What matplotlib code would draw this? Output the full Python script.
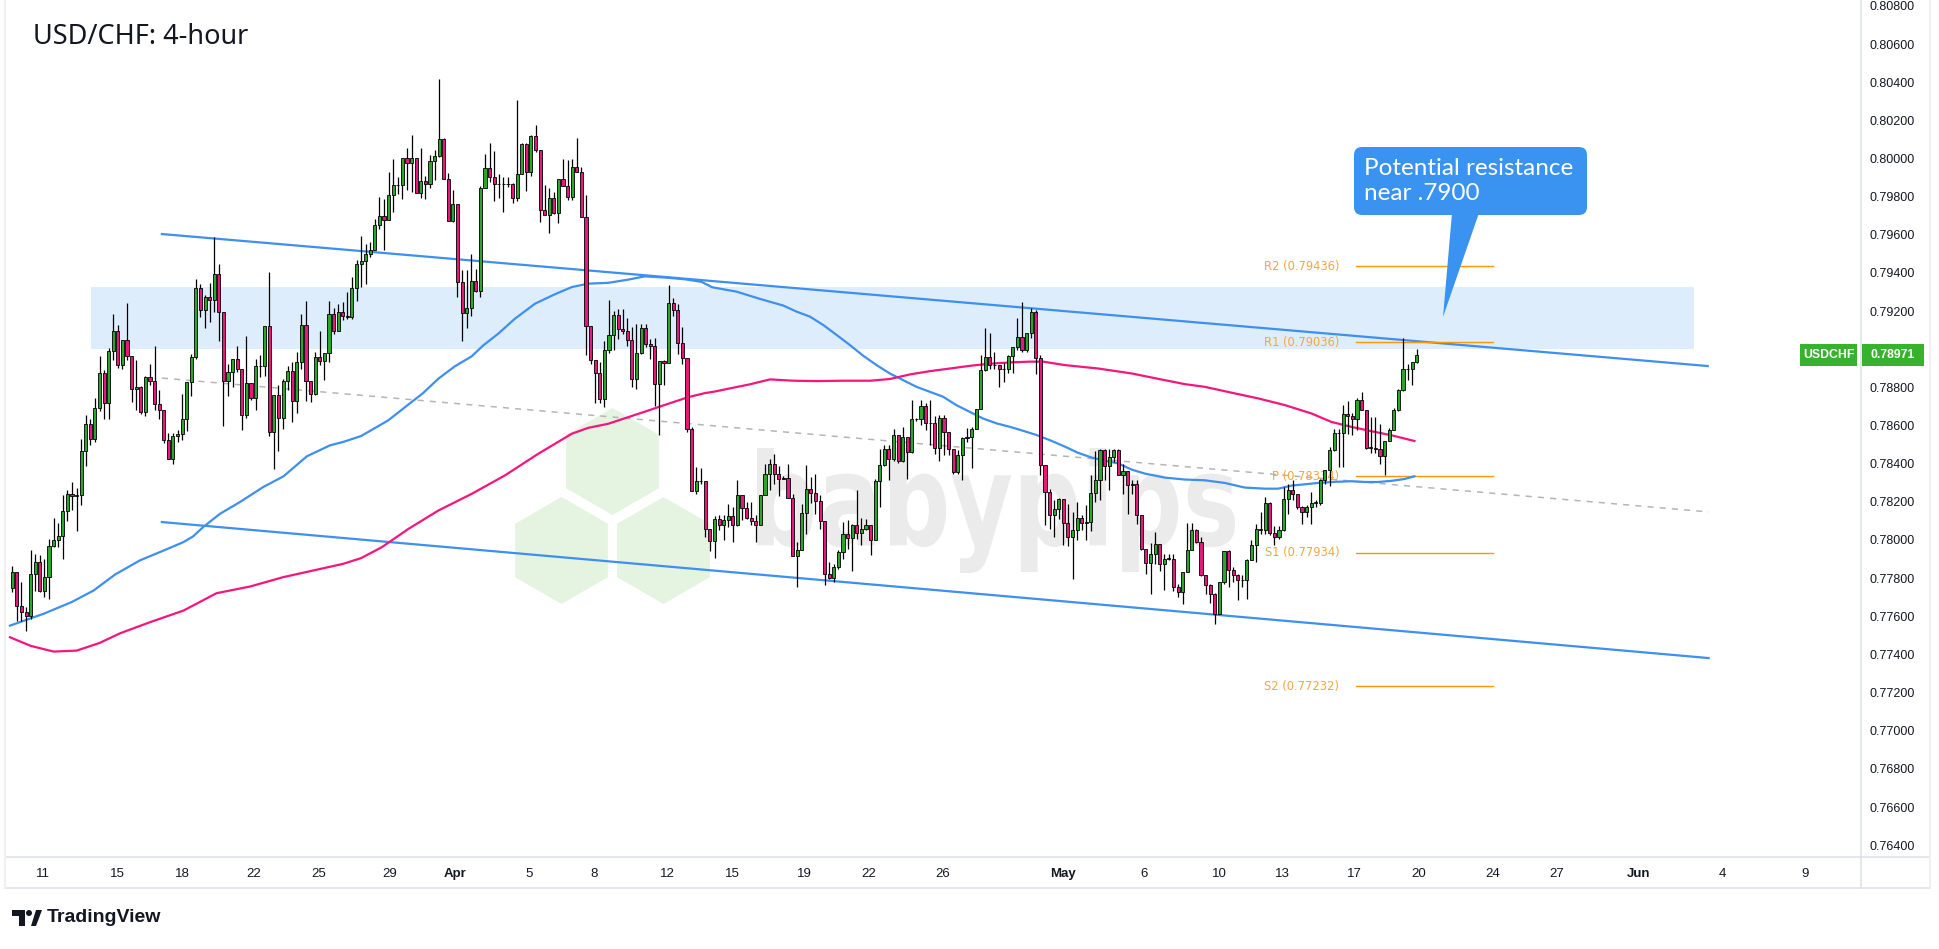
import matplotlib
matplotlib.use("Agg")
import matplotlib.pyplot as plt
import numpy as np
from matplotlib.patches import Rectangle, Polygon, FancyBboxPatch, PathPatch
from matplotlib.textpath import TextPath
from matplotlib.font_manager import FontProperties
from matplotlib.transforms import Affine2D

W, H = 1940, 949

# ---- data (prices in 1e-5 units, one entry per 4h bar) ----
first_open = 77747
closes = [
    77831, 77656, 77621, 77600, 77822, 77887, 77735, 77805, 77966, 78001,
    78022, 78151, 78242, 78228, 78234, 78466, 78610, 78528, 78694, 78876,
    78718, 78991, 79095, 78916, 79051, 78963, 78794, 78802, 78671, 78855,
    78834, 78715, 78680, 78522, 78426, 78543, 78554, 78636, 78829, 78960,
    79322, 79205, 79275, 79257, 79394, 79196, 78834, 78881, 78951, 78899,
    78654, 78823, 78746, 78911, 78911, 79121, 78566, 78762, 78641, 78834,
    78886, 78729, 78934, 79126, 78834, 78767, 78960, 78939, 78981, 79184,
    79096, 79196, 79173, 79170, 79319, 79446, 79462, 79501, 79522, 79650,
    79697, 79680, 79811, 79860, 79860, 80005, 79977, 80005, 79820, 79883,
    79865, 79986, 80012, 80100, 79890, 79673, 79759, 79353, 79190, 79218,
    79358, 79305, 79843, 79951, 79904, 79865, 79865, 79865, 79865, 79794,
    79921, 80075, 79930, 80117, 80044, 79732, 79706, 79795, 79715, 79890,
    79857, 79799, 79956, 79927, 79694, 79120, 78945, 78875, 78740, 78997,
    79073, 79178, 79108, 79095, 79046, 78845, 78980, 79113, 79029, 79015,
    78819, 78938, 78927, 79244, 79204, 79032, 78955, 78583, 78255, 78308,
    78308, 78058, 77993, 78110, 78080, 78103, 78124, 78080, 78238, 78168,
    78117, 78100, 78080, 78238, 78348, 78401, 78348, 78322, 78325, 78222,
    77916, 77946, 78143, 78266, 78248, 78203, 78098, 77823, 77800, 77858,
    77937, 78033, 78012, 78080, 78038, 78059, 78077, 78002, 78308, 78392,
    78476, 78423, 78549, 78413, 78541, 78462, 78633, 78633, 78702, 78611,
    78614, 78483, 78642, 78567, 78476, 78357, 78448, 78535, 78541, 78584,
    78686, 78891, 78961, 78917, 78917, 78896, 78899, 78966, 79013, 79066,
    78996, 79083, 79197, 78952, 78392, 78252, 78133, 78161, 78217, 78091,
    78016, 78054, 78117, 78091, 78094, 78246, 78316, 78470, 78386, 78435,
    78470, 78343, 78362, 78290, 78295, 78129, 77954, 77879, 77928, 77977,
    77872, 77902, 77902, 77753, 77727, 77832, 77949, 78050, 77989, 77814,
    77762, 77718, 77613, 77779, 77942, 77844, 77819, 77788, 77788, 77896,
    77972, 78059, 78054, 78194, 78036, 78015, 78054, 78217, 78264, 78243,
    78173, 78147, 78173, 78196, 78196, 78316, 78369, 78470, 78561, 78561,
    78663, 78651, 78633, 78736, 78680, 78484, 78483, 78479, 78439, 78519,
    78579, 78684, 78785, 78894, 78894, 78931, 78969,
]
highs = [
    77863, 77831, 77779, 77647, 77948, 77924, 77919, 77901, 78006, 78116,
    78088, 78234, 78263, 78304, 78274, 78531, 78654, 78636, 78746, 78963,
    78893, 79009, 79184, 79126, 79051, 79240, 78963, 78946, 78806, 78859,
    78925, 79016, 78785, 78680, 78561, 78561, 78575, 78767, 78829, 78977,
    79368, 79340, 79287, 79345, 79586, 79445, 79196, 78925, 78951, 79016,
    78899, 79068, 78823, 78951, 78969, 79121, 79406, 78762, 78811, 78846,
    78911, 78934, 78986, 79184, 79254, 78834, 78986, 79096, 78981, 79254,
    79214, 79236, 79249, 79301, 79380, 79467, 79595, 79554, 79563, 79685,
    79799, 79790, 79930, 80000, 79904, 80005, 80053, 80123, 80005, 80053,
    79907, 80018, 80044, 80415, 80105, 79925, 79837, 79764, 79414, 79417,
    79498, 79423, 79855, 80023, 80079, 80039, 79921, 79904, 79904, 79869,
    80306, 80082, 80082, 80123, 80175, 80044, 79860, 79843, 79825, 79890,
    80000, 79991, 80000, 80105, 79956, 79808, 79120, 78945, 78933, 79043,
    79256, 79200, 79213, 79213, 79165, 79116, 79134, 79134, 79130, 79055,
    79060, 78938, 78945, 79335, 79269, 79239, 79116, 78955, 78591, 78381,
    78378, 78311, 78058, 78128, 78133, 78129, 78191, 78173, 78313, 78238,
    78199, 78199, 78129, 78238, 78401, 78427, 78453, 78388, 78336, 78401,
    78243, 77989, 78191, 78392, 78331, 78348, 78234, 78098, 77884, 77876,
    77946, 78094, 78103, 78086, 78261, 78115, 78112, 78080, 78322, 78476,
    78497, 78500, 78584, 78549, 78593, 78541, 78733, 78640, 78733, 78716,
    78733, 78649, 78655, 78654, 78567, 78479, 78471, 78541, 78588, 78593,
    78689, 78969, 79109, 79083, 78987, 78920, 78926, 78969, 79013, 79162,
    79249, 79083, 79218, 79206, 78969, 78392, 78266, 78208, 78222, 78217,
    78191, 78147, 78199, 78129, 78182, 78339, 78467, 78479, 78479, 78479,
    78479, 78479, 78400, 78362, 78316, 78316, 78129, 77954, 77984, 78042,
    77977, 77928, 77928, 77928, 77770, 77832, 78089, 78089, 78059, 78015,
    77814, 77767, 77721, 77779, 77942, 77949, 77858, 77823, 77814, 77902,
    77998, 78085, 78147, 78225, 78199, 78071, 78071, 78278, 78295, 78313,
    78243, 78178, 78185, 78252, 78208, 78322, 78369, 78488, 78584, 78584,
    78707, 78729, 78666, 78745, 78777, 78684, 78645, 78645, 78610, 78519,
    78589, 78694, 78794, 79057, 78925, 78934, 78999,
]
lows = [
    77726, 77577, 77577, 77525, 77586, 77735, 77726, 77700, 77691, 77962,
    77962, 77901, 78102, 78155, 78046, 78181, 78386, 78496, 78514, 78676,
    78636, 78636, 78942, 78904, 78899, 78946, 78724, 78680, 78662, 78648,
    78811, 78680, 78636, 78508, 78426, 78396, 78514, 78522, 78571, 78753,
    78951, 79170, 79109, 79144, 79196, 79042, 78596, 78753, 78802, 78881,
    78575, 78641, 78736, 78680, 78855, 78859, 78543, 78374, 78466, 78584,
    78788, 78619, 78666, 78899, 78729, 78724, 78759, 78916, 78841, 78934,
    79082, 79096, 79152, 79161, 79161, 79254, 79327, 79344, 79484, 79519,
    79633, 79519, 79676, 79720, 79816, 79790, 79834, 79825, 79820, 79794,
    79790, 79843, 79886, 80009, 79890, 79673, 79668, 79274, 79043, 79113,
    79172, 79300, 79274, 79843, 79878, 79778, 79794, 79720, 79851, 79767,
    79776, 79921, 79830, 79907, 80035, 79668, 79706, 79610, 79711, 79662,
    79857, 79781, 79781, 79927, 79694, 78968, 78924, 78717, 78717, 78696,
    78980, 78994, 79055, 79081, 79015, 78801, 78793, 78976, 79011, 78950,
    78705, 78548, 78810, 78927, 79172, 78976, 78924, 78565, 78255, 78241,
    78294, 78014, 77944, 77905, 78051, 77998, 78068, 77989, 78073, 78103,
    78112, 78080, 77989, 78077, 78238, 78261, 78296, 78231, 78318, 78222,
    77916, 77753, 77946, 78033, 78196, 78138, 78059, 77762, 77797, 77779,
    77849, 77902, 77951, 77835, 78007, 77972, 78051, 77923, 77998, 78173,
    78388, 78313, 78413, 78406, 78410, 78322, 78458, 78623, 78602, 78576,
    78497, 78453, 78413, 78444, 78444, 78348, 78348, 78313, 78514, 78378,
    78581, 78686, 78885, 78896, 78896, 78803, 78829, 78878, 78878, 78996,
    78987, 78987, 79057, 78868, 78339, 78077, 78059, 78016, 78112, 77975,
    77968, 77793, 78001, 78050, 77998, 78047, 78199, 78208, 78313, 78264,
    78409, 78339, 78243, 78134, 78239, 78085, 77945, 77823, 77718, 77875,
    77840, 77739, 77893, 77732, 77700, 77662, 77832, 77945, 77984, 77809,
    77718, 77669, 77560, 77613, 77767, 77753, 77779, 77686, 77756, 77692,
    77893, 77884, 78033, 78029, 78024, 77972, 78007, 78047, 78138, 78208,
    78164, 78082, 78120, 78082, 78173, 78182, 78295, 78281, 78467, 78383,
    78383, 78558, 78549, 78575, 78680, 78479, 78456, 78456, 78397, 78339,
    78519, 78575, 78677, 78782, 78838, 78812, 78929,
]

# moving averages (bar index, price)
ma_blue_x = [-0.5, 6.8, 12.9, 17.7, 22.4, 27.8, 33, 37.3, 39.4, 41.6, 45.3, 49.6, 54.7, 59.1,
             64.2, 69.2, 72.1, 76, 81.9, 85.6, 89.5, 92.8, 96.4, 100.1, 102.6, 105.9, 109.5,
             113.9, 118.2, 121.9, 125.5, 129.8, 134.2, 137.8, 142.2, 146.5, 150.2, 152.5,
             157.8, 162.9, 168, 170.9, 173.8, 176.7, 179.6, 182.5, 185.4, 188.3, 191.2, 194.1,
             197, 199.9, 202.8, 205.7, 208.6, 211.5, 214.5, 217.4, 220.3, 223.2, 226.1, 229.3,
             232.2, 235.2, 238.1, 241, 243.9, 246.8, 251.1, 255.5, 259.8, 264.2, 268.5, 272.9,
             275.8, 278.7, 281.6, 284.5, 287.4, 291.8, 294.7, 297.6, 300.5, 303.4, 305.5]
ma_blue_y = [77551, 77613, 77674, 77735, 77819, 77893, 77945, 77989, 78019, 78068, 78138, 78199,
             78278, 78334, 78439, 78496, 78514, 78545, 78627, 78697, 78770, 78845, 78910, 78963,
             79020, 79082, 79160, 79239, 79288, 79326, 79344, 79348, 79365, 79382, 79376, 79367,
             79353, 79325, 79302, 79264, 79229, 79197, 79171, 79127, 79075, 79022, 78966, 78917,
             78873, 78838, 78803, 78777, 78751, 78707, 78672, 78637, 78611, 78593, 78572, 78550,
             78523, 78490, 78457, 78432, 78415, 78401, 78369, 78348, 78327, 78317, 78313, 78299,
             78275, 78269, 78269, 78285, 78292, 78299, 78304, 78308, 78304, 78304, 78310, 78320,
             78334]
ma_mag_x = [-0.5, 4, 9, 14, 19, 23.5, 30, 37.3, 44.5, 51.8, 59, 66.3, 72.1, 76, 80.5, 86.3, 92.8,
            100.1, 107.3, 114.6, 121.9, 125.5, 129.8, 134.2, 138.6, 142.9, 147.3, 150.9, 153,
            156.4, 160.7, 165.1, 170.2, 175.2, 181, 186.9, 191.2, 195.6, 199.9, 204.3, 208.6,
            213, 217.4, 221.7, 224.6, 229.3, 236.6, 243.9, 251.1, 255.5, 259.8, 265.7, 271.5,
            277.3, 283.1, 287.4, 291.8, 296.2, 300.5, 305.5]
ma_mag_y = [77490, 77445, 77415, 77420, 77460, 77511, 77569, 77630, 77721, 77756, 77805, 77844,
            77875, 77905, 77962, 78058, 78154, 78242, 78338, 78452, 78557, 78588, 78609, 78644,
            78679, 78714, 78749, 78770, 78778, 78795, 78816, 78842, 78835, 78833, 78835, 78835,
            78844, 78868, 78885, 78899, 78913, 78924, 78931, 78935, 78935, 78917, 78899, 78873,
            78838, 78817, 78803, 78772, 78742, 78707, 78663, 78619, 78593, 78570, 78549, 78519]

# channel lines (bar index, price)
upper_x, upper_y = [32.6, 369.4], [0.79604, 0.78912]
lower_x, lower_y = [32.6, 369.6], [0.78094, 0.77381]
mid_x, mid_y = [32.6, 369.6], [0.78849, 0.78147]
zone_x, zone_y = [17.1, 366.4], [0.79001, 0.79328]

pivot_names = ["R2", "R1", "P", "S1", "S2"]
pivot_vals = [0.79436, 0.79036, 0.78334, 0.77934, 0.77232]
pivot_x = [292.7, 322.6]

tick_pos = [6.7, 22.9, 37.1, 52.6, 66.7, 82.2, 96.4, 112.6, 126.7, 142.8, 157.0, 172.5, 186.6,
            202.8, 228.9, 246.6, 262.9, 276.7, 292.5, 306.5, 322.5, 336.4, 354.4, 372.6, 390.6]
tick_lab = ["11", "15", "18", "22", "25", "29", "Apr", "5", "8", "12", "15", "19", "22", "26",
            "May", "6", "10", "13", "17", "20", "24", "27", "Jun", "4", "9"]
last_price = 0.78971

# ---- figure ----
fig = plt.figure(figsize=(W / 100, H / 100), dpi=100)
fig.patch.set_facecolor("white")


def fpx(x, y):
    return (x / W, 1 - y / H)


ax = fig.add_axes([5 / W, (H - 857) / H, (1861 - 5) / W, 857 / H])
ax.set_facecolor("none")
for s in ax.spines.values():
    s.set_visible(False)

o = np.r_[first_open, closes[:-1]] / 1e5
c = np.array(closes) / 1e5
hi = np.array(highs) / 1e5
lo = np.array(lows) / 1e5
xb = np.arange(len(c))
up = c >= o

# watermark: hexagons + babypips text
hex_col = "#e4f4e1"
for cx, cy in [(612.5, 461.5), (561.5, 550.5), (663.5, 550.5)]:
    r = 53.5
    ang = np.deg2rad(90 + 60 * np.arange(6))
    pts = [fpx(cx + r * np.cos(a), cy - r * np.sin(a)) for a in ang]
    ax.add_patch(Polygon(pts, closed=True, facecolor=hex_col, edgecolor="none",
                         transform=fig.transFigure, zorder=0.2, clip_on=False))

tp = TextPath((0, 0), "babypips", size=100, prop=FontProperties(family="DejaVu Sans", weight="bold"))
bb = tp.get_extents()
tr = (Affine2D().translate(-bb.x0, -bb.y0)
      .scale(478 / bb.width, 125 / bb.height)
      .translate(757, H - 573)
      .scale(1 / W, 1 / H) + fig.transFigure)
ax.add_patch(PathPatch(tp, facecolor="#ebebeb", edgecolor="none", transform=tr, zorder=0.3, clip_on=False))

# resistance zone
ax.add_patch(Rectangle((zone_x[0], zone_y[0]), zone_x[1] - zone_x[0], zone_y[1] - zone_y[0],
                       facecolor="#deedfc", edgecolor="none", zorder=0.5))

# channel
ax.plot(upper_x, upper_y, color="#3d8ff0", lw=1.6, zorder=2)
ax.plot(lower_x, lower_y, color="#3d8ff0", lw=1.6, zorder=2)
ax.plot(mid_x, mid_y, color="#b5b5b5", lw=1.1, ls=(0, (4, 4)), zorder=2)

# moving averages
ax.plot(ma_blue_x, np.array(ma_blue_y) / 1e5, color="#3d8ff0", lw=1.6, zorder=3)
ax.plot(ma_mag_x, np.array(ma_mag_y) / 1e5, color="#f5157d", lw=1.6, zorder=3)

# pivots
for name, v in zip(pivot_names, pivot_vals):
    ax.plot(pivot_x, [v, v], color="#ff9800", lw=1.0, zorder=2.5)
    ax.text(pivot_x[0] - 3.6, v, f"{name} ({v:.5f})", color="#f6a540", fontsize=8.3,
            ha="right", va="center", zorder=2.5, family="DejaVu Sans")

# candles
ax.vlines(xb, lo, hi, color="black", lw=0.9, zorder=4)
bot = np.minimum(o, c)
hgt = np.maximum(np.abs(c - o), 0.00002)
cols = np.where(up, "#2ba52b", "#e8177a")
ax.bar(xb, hgt, bottom=bot, width=0.68, color=cols, edgecolor="black", linewidth=0.6, zorder=5)

# axes
ax.set_xlim(-1.59, 402.8)
ax.set_ylim(0.76338, 0.80831)
yt = np.arange(0.764, 0.8081, 0.002)
ax.yaxis.tick_right()
ax.set_yticks(yt)
# the 0.79000 label sits under the last-price tag
ax.set_yticklabels(["" if abs(v - 0.790) < 1e-6 else f"{v:.5f}" for v in yt])
ax.tick_params(axis="y", length=0, pad=6, labelsize=9, labelcolor="#131722")
for t in ax.get_yticklabels():
    t.set_family("Liberation Sans")
ax.set_xticks(tick_pos)
ax.set_xticklabels(tick_lab)
ax.tick_params(axis="x", length=0, pad=8, labelsize=9.5, labelcolor="#131722")
for t in ax.get_xticklabels():
    t.set_family(["Liberation Sans Narrow", "Liberation Sans"])
    if t.get_text() in ("Apr", "May", "Jun"):
        t.set_fontweight("bold")

# frame lines
bcol = "#e0e3eb"
fig.add_artist(plt.Line2D([5 / W, 1930 / W], [fpx(0, 857)[1]] * 2, color=bcol, lw=1.2, transform=fig.transFigure))
fig.add_artist(plt.Line2D([5 / W, 1930 / W], [fpx(0, 888)[1]] * 2, color=bcol, lw=1.2, transform=fig.transFigure))
fig.add_artist(plt.Line2D([1861 / W] * 2, [fpx(0, 0)[1], fpx(0, 888)[1]], color=bcol, lw=1.2, transform=fig.transFigure))
fig.add_artist(plt.Line2D([5 / W] * 2, [fpx(0, 0)[1], fpx(0, 888)[1]], color="#f0f0f0", lw=1.5, transform=fig.transFigure))
fig.add_artist(plt.Line2D([1930 / W] * 2, [fpx(0, 0)[1], fpx(0, 888)[1]], color="#f0f0f0", lw=1.5, transform=fig.transFigure))

# price tags
tag_col = "#36b22c"
yc = 6 + (0.808 - last_price) * 19070
for x0, x1, txt in [(1800, 1857, "USDCHF"), (1862, 1924, f"{last_price:.5f}")]:
    fig.add_artist(Rectangle(fpx(x0, yc + 11), (x1 - x0) / W, 22 / H, facecolor=tag_col,
                             edgecolor="none", transform=fig.transFigure, zorder=6))
    fig.text(*fpx((x0 + x1) / 2, yc), txt, color="white", fontsize=8.8, fontweight="bold",
             ha="center", va="center", zorder=7, family="Liberation Sans")

# callout
call_col = "#3b93f1"
bx0, by0, bx1, by1 = 1354, 147, 1587, 215
fig.add_artist(FancyBboxPatch(fpx(bx0, by1), (bx1 - bx0) / W, (by1 - by0) / H,
                              boxstyle=f"round,pad=0,rounding_size={8 / W}",
                              facecolor=call_col, edgecolor="none", transform=fig.transFigure,
                              zorder=6, mutation_aspect=W / H))
fig.add_artist(Polygon([fpx(1452, 213), fpx(1479, 213), fpx(1443, 317)], closed=True,
                       facecolor=call_col, edgecolor="none", transform=fig.transFigure, zorder=6))
fig.text(*fpx(1364, 181), "Potential resistance\nnear .7900", color="white", fontsize=17.5,
         ha="left", va="center", linespacing=1.2, zorder=7, family="Lato")

# title
fig.text(*fpx(33, 37), "USD/CHF: 4-hour", fontsize=19.5, color="#131722", ha="left", va="center",
         family="Noto Sans")

# TradingView logo
lc = "#131722"
fig.add_artist(Polygon([fpx(12, 910), fpx(25, 910), fpx(25, 926), fpx(19, 926), fpx(19, 916), fpx(12, 916)],
                       closed=True, facecolor=lc, edgecolor="none", transform=fig.transFigure))
fig.add_artist(Polygon([fpx(31, 926), fpx(36, 910), fpx(42, 910), fpx(36, 926)], closed=True,
                       facecolor=lc, edgecolor="none", transform=fig.transFigure))
cpts = [fpx(29 + 3 * np.cos(a), 913 + 3 * np.sin(a)) for a in np.linspace(0, 2 * np.pi, 20)]
fig.add_artist(Polygon(cpts, closed=True, facecolor=lc, edgecolor="none", transform=fig.transFigure))
fig.text(*fpx(47, 918), "TradingView", fontsize=14, fontweight="bold", color=lc, ha="left",
         va="center", family="Liberation Sans")

fig.savefig("out.png", dpi=100)
